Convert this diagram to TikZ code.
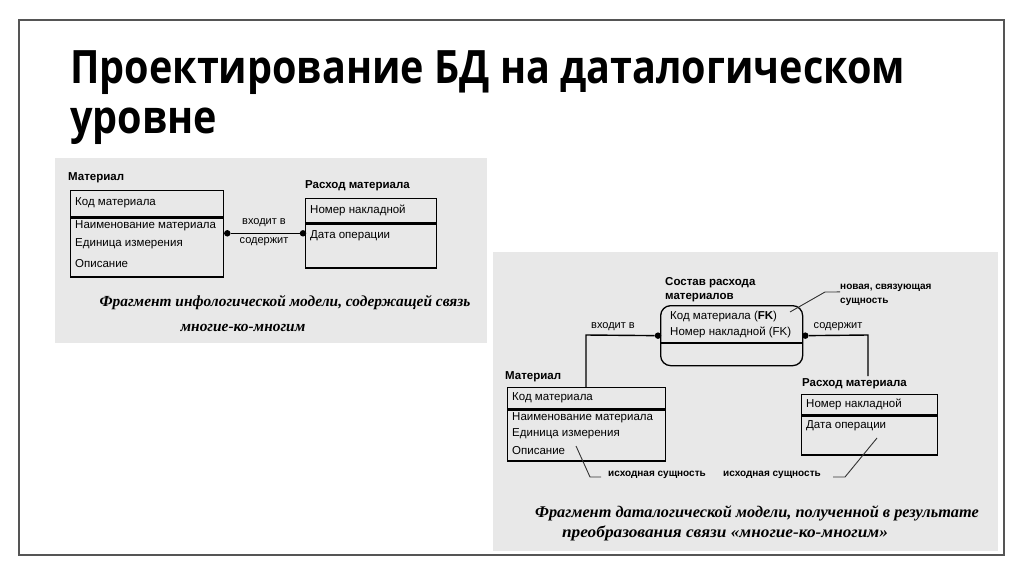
\documentclass[tikz,border=0pt]{standalone}
\usepackage{fontspec}
\setmainfont{Liberation Sans}
\newfontfamily\titlefont[FakeStretch=0.86]{Open Sans}
\newfontfamily\capfont{Liberation Serif}
\definecolor{panelgray}{HTML}{E8E8E8}
\definecolor{framegray}{HTML}{555555}
\tikzset{
  ent/.style={draw=black, line width=1.3pt, inner sep=0pt, anchor=north west},
  txt/.style={font=\fontsize{11.5}{13}\selectfont, inner sep=0pt, anchor=west},
  lbl/.style={font=\fontsize{11.5}{13}\selectfont\bfseries, inner sep=0pt, anchor=west},
  small/.style={font=\fontsize{10}{12}\selectfont\bfseries, inner sep=0pt, anchor=west},
  conn/.style={draw=black, line width=1.4pt},
  lead/.style={draw=black!80, line width=0.9pt},
  dot/.style={circle, fill=black, inner sep=0pt, minimum size=6.5pt},
  captxt/.style={font=\capfont\fontsize{15.4}{18}\selectfont\bfseries\itshape, inner sep=0pt},
  captxtb/.style={font=\capfont\fontsize{16.3}{18}\selectfont\bfseries\itshape, inner sep=0pt},
  ttl/.style={font=\titlefont\fontsize{46}{50}\selectfont\bfseries, inner sep=0pt, anchor=base west}
}
\begin{document}
\begin{tikzpicture}[x=1pt,y=-1pt]
\useasboundingbox (0,0) rectangle (1024,576);
\fill[white] (0,0) rectangle (1024,576);
\draw[framegray, line width=1.6pt] (19,20) rectangle (1004,555);
% title
\node[ttl] (t1) at (70,83) {Проектирование БД на даталогическом};
\node[ttl] (t2) at (70,133) {уровне};
% panels
\fill[panelgray] (55,158) rectangle (487,343);
\fill[panelgray] (493,252) rectangle (998,551);

% ---------- left panel ----------
\node[lbl] (lm) at (68,178) {Материал};
\node[ent, minimum width=153pt, minimum height=26pt] (lmk) at (70,190) {};
\node[ent, minimum width=153pt, minimum height=59pt] (lma) at (lmk.south west) {};
\node[txt] at (75,203) {Код материала};
\node[txt] at (75,226) {Наименование материала};
\node[txt] at (75,244) {Единица измерения};
\node[txt] at (75,264) {Описание};

\node[lbl] (lr) at (305,186) {Расход материала};
\node[ent, minimum width=131pt, minimum height=24pt] (lrk) at (305,198) {};
\node[ent, minimum width=131pt, minimum height=44pt] (lra) at (lrk.south west) {};
\node[txt] at (310,210) {Номер накладной};
\node[txt] at (310,236) {Дата операции};

\node[dot] (d1) at ([xshift=3pt,yshift=-16pt]lma.north east) {};
\node[dot] (d2) at ([xshift=-2pt]lra.west |- d1) {};
\draw[conn] (d1) -- (d2);
\node[font=\fontsize{11}{13}\selectfont, inner sep=0pt] at (264,223) {входит в};
\node[font=\fontsize{11}{13}\selectfont, inner sep=0pt] at (264,242) {содержит};

\node[captxt] at (285,303) {Фрагмент инфологической модели, содержащей связь};
\node[captxt] at (243,328) {многие-ко-многим};

% ---------- right panel ----------
\node[lbl] at (665,283) {Состав расхода};
\node[lbl] at (665,298) {материалов};
\node[ent, rounded corners=10pt, minimum width=142pt, minimum height=60pt] (sr) at (660,305) {};
\draw[line width=1.3pt] (660,343) -- (802,343);
\node[txt] at (670,317) {Код материала (\textbf{FK})};
\node[txt] at (670,332) {Номер накладной (FK)};

\node[small] (nov1) at (840,288) {новая, связующая};
\node[small] (nov2) at (840,302) {сущность};
\coordinate (nl1) at (790,312);
\coordinate (nl2) at (825,292);
\draw[lead] (nl1) -- (nl2) -- (nov1.south west);

\node[lbl] (rm) at (505,377) {Материал};
\node[ent, minimum width=158pt, minimum height=21pt] (rmk) at (507,387) {};
\node[ent, minimum width=158pt, minimum height=51pt] (rma) at (rmk.south west) {};
\node[txt] at (512,398) {Код материала};
\node[txt] at (512,418) {Наименование материала};
\node[txt] at (512,434) {Единица измерения};
\node[txt] at (512,451) {Описание};

\node[lbl] (rr) at (802,384) {Расход материала};
\node[ent, minimum width=136pt, minimum height=20pt] (rrk) at (801,394) {};
\node[ent, minimum width=136pt, minimum height=39pt] (rra) at (rrk.south west) {};
\node[txt] at (806,404) {Номер накладной};
\node[txt] at (806,426) {Дата операции};

\node[dot] (d3) at ([xshift=-2pt]sr.west) {};
\node[dot] (d4) at ([xshift=2pt]sr.east) {};
\coordinate (b1) at (586,335);
\coordinate (b2) at (868,335);
\coordinate (e2) at (868,376);
\draw[conn] (d3) -- (b1) -- (b1 |- rmk.north);
\draw[conn] (d4) -- (b2) -- (e2);
\node[font=\fontsize{11}{13}\selectfont, inner sep=0pt] at (613,327) {входит в};
\node[font=\fontsize{11}{13}\selectfont, inner sep=0pt] at (838,327) {содержит};

\node[small] (is1) at (608,475) {исходная сущность};
\node[small] (is2) at (723,475) {исходная сущность};
\coordinate (a1) at (576,446);
\coordinate (a2) at (590,477);
\coordinate (a3) at (601,477);
\draw[lead] (a1) -- (a2) -- (a3);
\coordinate (c1) at (833,477);
\coordinate (c2) at (845,477);
\coordinate (c3) at (877,438);
\draw[lead] (c1) -- (c2) -- (c3);

\node[captxtb] at (757,513) {Фрагмент даталогической модели, полученной в результате};
\node[captxtb] at (725,533) {\scalebox{1.06}[1]{преобразования связи «многие-ко-многим»}};
\end{tikzpicture}
\end{document}
